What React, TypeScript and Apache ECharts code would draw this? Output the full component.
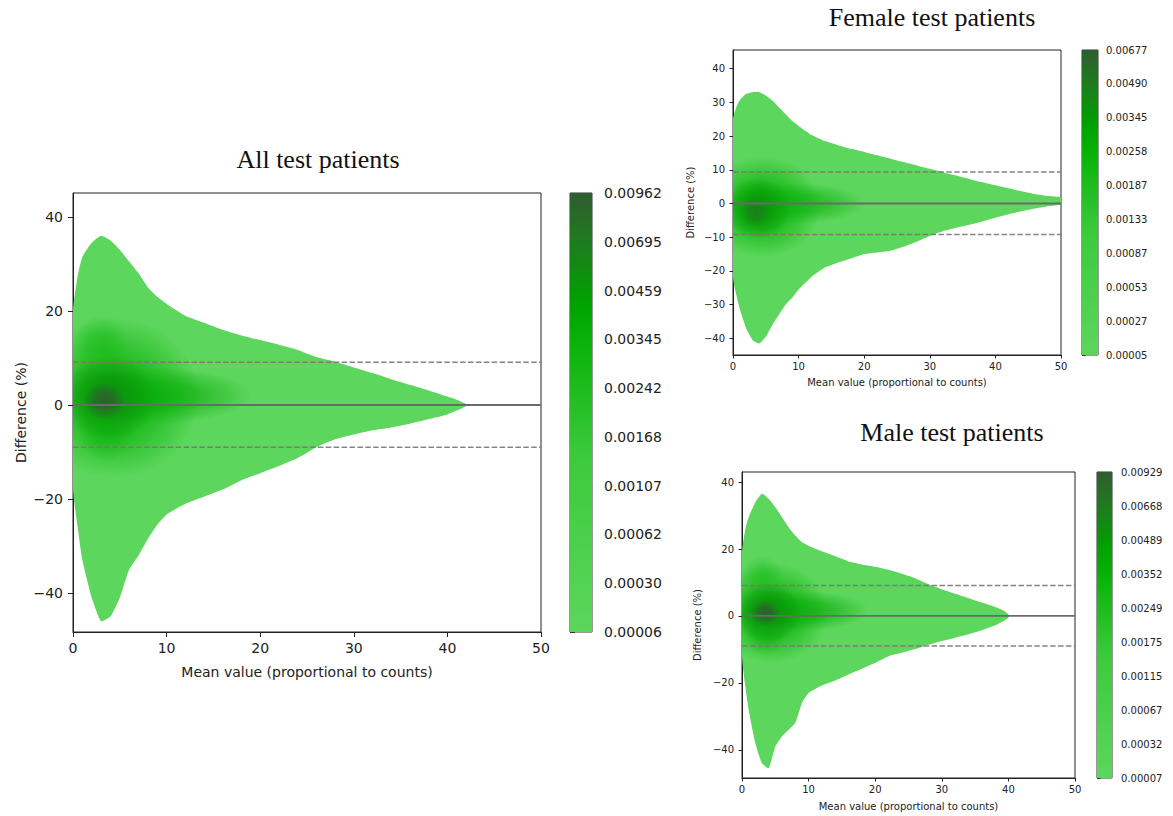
import React, { useEffect, useRef } from "react";
import * as echarts from "echarts";

// ---------------- data ----------------
const xTicks = [0, 10, 20, 30, 40, 50];
const allYTicks = [-40, -20, 0, 20, 40];
const femaleYTicks = [-40, -30, -20, -10, 0, 10, 20, 30, 40];
const maleYTicks = [-40, -20, 0, 20, 40];

// outer density envelope (lowest contour level)
const allX = [0, 0.5, 1, 2, 3, 4, 5, 6, 7, 8, 9, 10, 12, 14, 16, 18, 20, 22, 24, 26, 28, 30, 32, 34, 36, 38, 40, 41, 42];
const allUpper = [20, 27.5, 31.5, 34.5, 36, 35, 33, 30.5, 28, 25, 23, 21.5, 19, 17.5, 16, 14.8, 13.8, 12.8, 11.7, 10.2, 9.2, 8, 6.8, 5.5, 4.3, 3.1, 1.8, 1.1, 0.2];
const allLower = [-18, -26, -33, -41, -46, -45, -41, -35, -32, -28.5, -25.5, -23.3, -21, -19.5, -18, -16, -14.5, -13, -11.3, -9, -7.3, -6.3, -5.4, -4.8, -4, -3, -2, -1.2, -0.2];

const femaleX = [0, 0.5, 1, 2, 3, 4, 5, 6, 7, 8, 9, 10, 12, 14, 16, 18, 20, 22, 24, 26, 28, 30, 32, 34, 36, 38, 40, 42, 44, 46, 48, 50];
const femaleUpper = [25, 28.5, 30.5, 32.5, 33, 33, 32, 30.5, 28.5, 26.5, 24.5, 23, 20.3, 18.5, 17.3, 16.2, 15.3, 14.3, 13.3, 12.3, 11.3, 10.3, 9.3, 8.3, 7.3, 6.3, 5.4, 4.5, 3.6, 2.8, 2.2, 1.8];
const femaleLower = [-22, -27, -31, -37, -40.5, -41.5, -39.5, -36, -33, -30, -28, -25.5, -21.7, -19, -17.5, -16.3, -15, -14.5, -14, -12.8, -11.3, -9.6, -8.2, -7.2, -6.3, -5.3, -4.2, -3.2, -2.3, -1.5, -0.8, -0.3];

const maleX = [0, 0.5, 1, 2, 3, 4, 5, 6, 7, 8, 9, 10, 12, 14, 16, 18, 20, 22, 24, 26, 28, 30, 32, 34, 36, 38, 39, 40];
const maleUpper = [19, 26, 29.5, 34, 36.5, 35, 32.5, 29.5, 26.5, 24, 22, 21, 19.3, 17.8, 16.3, 15.4, 14.7, 13.8, 12.6, 11.3, 9.5, 8, 6.6, 5.3, 4, 2.7, 1.9, 0.5];
const maleLower = [-12, -21, -28, -38, -44, -45.5, -39, -36, -34, -32, -26, -23, -20.8, -19.3, -17.5, -15.8, -14, -12, -11, -9.9, -8.6, -7.5, -6.5, -5.5, -4.3, -2.8, -1.8, -0.5];

// density peaks (centre x, centre y, radius x, radius y, level 0..1, weight)
const allPeakX = [4.5, 9, 3.8, 3.4, 3, 3.5];
const allPeakY = [1.5, 2, 1.5, 0.8, 13, -6];
const allPeakSX = [9, 10, 5, 2.2, 3, 3];
const allPeakSY = [17, 6, 9, 4, 6, 6];
const allPeakLevel = [0.66, 0.7, 0.8, 1, 0.62, 0.68];
const allPeakWeight = [0.95, 0.75, 1, 0.9, 0.5, 0.45];

const femalePeakX = [4.5, 10, 3.8, 3.5];
const femalePeakY = [-1, 0, -1.5, -2.5];
const femalePeakSX = [9, 10, 5, 2.2];
const femalePeakSY = [15, 6, 9, 4.5];
const femalePeakLevel = [0.66, 0.68, 0.78, 0.9];
const femalePeakWeight = [0.95, 0.7, 1, 0.75];

const malePeakX = [4.5, 9, 3.8, 3.5, 3, 3.5];
const malePeakY = [1, 1.5, 1, 0.8, 12, -6];
const malePeakSX = [8.5, 10, 5, 2.2, 3, 3];
const malePeakSY = [15, 6, 9, 4, 6, 6];
const malePeakLevel = [0.66, 0.7, 0.8, 1, 0.62, 0.68];
const malePeakWeight = [0.95, 0.75, 1, 0.9, 0.45, 0.45];

const lineX = [0, 50];
const allLines = [0, 9.1, -9.0]; // mean, upper LoA, lower LoA
const femaleLines = [0, 9.35, -9.15];
const maleLines = [0, 9.1, -9.0];

const allCbLabels = ["0.00006", "0.00030", "0.00062", "0.00107", "0.00168", "0.00242", "0.00345", "0.00459", "0.00695", "0.00962"];
const femaleCbLabels = ["0.00005", "0.00027", "0.00053", "0.00087", "0.00133", "0.00187", "0.00258", "0.00345", "0.00490", "0.00677"];
const maleCbLabels = ["0.00007", "0.00032", "0.00067", "0.00115", "0.00175", "0.00249", "0.00352", "0.00489", "0.00668", "0.00929"];

// ---------------- styling helpers ----------------
const cmapStops: [number, number[]][] = [
  [0, [92, 214, 92]],
  [0.4, [60, 202, 60]],
  [0.65, [10, 180, 10]],
  [0.76, [0, 160, 0]],
  [0.88, [30, 125, 30]],
  [1, [48, 92, 48]],
];
function cmap(t: number, a = 1) {
  t = Math.max(0, Math.min(1, t));
  for (let i = 0; i < cmapStops.length - 1; i++) {
    const [t0, c0] = cmapStops[i];
    const [t1, c1] = cmapStops[i + 1];
    if (t <= t1) {
      const f = (t - t0) / (t1 - t0);
      const c = c0.map((v, k) => Math.round(v + (c1[k] - v) * f));
      return `rgba(${c[0]},${c[1]},${c[2]},${a})`;
    }
  }
  const c = cmapStops[cmapStops.length - 1][1];
  return `rgba(${c[0]},${c[1]},${c[2]},${a})`;
}
const BASE = cmap(0);
const FONT = "DejaVu Sans";
const TXT = "#222";
const minus = (v: number) => (v < 0 ? "\u2212" + Math.abs(v) : String(v));

type Box = { left: number; top: number; width: number; height: number };
type Panel = {
  grid: Box; cb: Box;
  yMin: number; yMax: number; yTicks: number[];
  xs: number[]; up: number[]; lo: number[];
  px: number[]; py: number[]; psx: number[]; psy: number[]; plv: number[]; pw: number[];
  lines: number[]; cbLabels: string[];
  fs: number; tick: number; xGap: number; yGap: number; xm: number; ym: number; cbm: number;
};

const panels: Panel[] = [
  {
    grid: { left: 73, top: 193, width: 468, height: 439 },
    cb: { left: 570, top: 193, width: 22, height: 439 },
    yMin: -48.3, yMax: 45.1, yTicks: allYTicks,
    xs: allX, up: allUpper, lo: allLower,
    px: allPeakX, py: allPeakY, psx: allPeakSX, psy: allPeakSY, plv: allPeakLevel, pw: allPeakWeight,
    lines: allLines, cbLabels: allCbLabels, fs: 14, tick: 5, xGap: 33, yGap: 45, xm: 9, ym: 10, cbm: 12,
  },
  {
    grid: { left: 733, top: 50, width: 328, height: 305 },
    cb: { left: 1082, top: 50, width: 16, height: 305 },
    yMin: -44.9, yMax: 45.5, yTicks: femaleYTicks,
    xs: femaleX, up: femaleUpper, lo: femaleLower,
    px: femalePeakX, py: femalePeakY, psx: femalePeakSX, psy: femalePeakSY, plv: femalePeakLevel, pw: femalePeakWeight,
    lines: femaleLines, cbLabels: femaleCbLabels, fs: 10, tick: 3.5, xGap: 22, yGap: 38, xm: 6, ym: 8, cbm: 8,
  },
  {
    grid: { left: 742, top: 472, width: 333, height: 306 },
    cb: { left: 1097, top: 472, width: 15, height: 306 },
    yMin: -48.4, yMax: 43, yTicks: maleYTicks,
    xs: maleX, up: maleUpper, lo: maleLower,
    px: malePeakX, py: malePeakY, psx: malePeakSX, psy: malePeakSY, plv: malePeakLevel, pw: malePeakWeight,
    lines: maleLines, cbLabels: maleCbLabels, fs: 10, tick: 3.5, xGap: 23, yGap: 40, xm: 6, ym: 8, cbm: 9,
  },
];

const titles = [
  { text: "All test patients", x: 318, y: 146 },
  { text: "Female test patients", x: 932, y: 4 },
  { text: "Male test patients", x: 952, y: 419 },
];

function buildOption() {
  const grids: any[] = [];
  const xAxes: any[] = [];
  const yAxes: any[] = [];
  const series: any[] = [];

  panels.forEach((p, k) => {
    const gi = k * 2;
    grids.push({ ...p.grid, show: true, borderColor: "#222", borderWidth: 1, backgroundColor: "transparent", containLabel: false });
    grids.push({ ...p.cb, show: true, borderColor: "#333", borderWidth: 1, backgroundColor: "transparent", containLabel: false });

    xAxes.push({
      type: "value", gridIndex: gi, min: xTicks[0], max: xTicks[xTicks.length - 1], interval: 10,
      name: "Mean value (proportional to counts)", nameLocation: "middle", nameGap: p.xGap,
      nameTextStyle: { fontFamily: FONT, fontSize: p.fs, color: TXT },
      axisLine: { show: true, onZero: false, lineStyle: { color: "#222", width: 1 } },
      axisTick: { show: true, length: p.tick, lineStyle: { color: "#222" } },
      axisLabel: { fontFamily: FONT, fontSize: p.fs, color: TXT, margin: p.xm, formatter: (v: number) => minus(v) },
      splitLine: { show: false },
    });
    yAxes.push({
      type: "value", gridIndex: gi, min: p.yMin, max: p.yMax,
      name: "Difference (%)", nameLocation: "middle", nameGap: p.yGap,
      nameTextStyle: { fontFamily: FONT, fontSize: p.fs, color: TXT },
      axisLine: { show: true, onZero: false, lineStyle: { color: "#222", width: 1 } },
      axisTick: { show: true, length: p.tick, customValues: p.yTicks, lineStyle: { color: "#222" } },
      axisLabel: { fontFamily: FONT, fontSize: p.fs, color: TXT, margin: p.ym, customValues: p.yTicks, formatter: (v: number) => minus(v) },
      splitLine: { show: false },
    });
    // colorbar axes
    xAxes.push({ type: "value", gridIndex: gi + 1, min: 0, max: 1, show: false });
    yAxes.push({
      type: "value", gridIndex: gi + 1, min: 0, max: p.cbLabels.length - 1, interval: 1, position: "right",
      axisLine: { show: false },
      axisTick: { show: true, length: p.tick, lineStyle: { color: "#333" } },
      axisLabel: { fontFamily: FONT, fontSize: p.fs, color: TXT, margin: p.cbm, formatter: (v: number) => p.cbLabels[Math.round(v)] ?? "" },
      splitLine: { show: false },
    });

    // outer envelope polygon
    series.push({
      type: "custom", xAxisIndex: gi, yAxisIndex: gi, clip: true, z: 2, silent: true,
      data: p.xs.map((x, i) => [x, p.up[i], p.lo[i]]),
      encode: { x: 0, y: [1, 2] },
      renderItem: (params: any, api: any) => {
        if (params.dataIndexInside !== 0) return null;
        const n = params.dataInsideLength;
        const pts: number[][] = [];
        for (let i = 0; i < n; i++) pts.push(api.coord([api.value(0, i), api.value(1, i)]));
        for (let i = n - 1; i >= 0; i--) pts.push(api.coord([api.value(0, i), api.value(2, i)]));
        return { type: "polygon", shape: { points: pts, smooth: 0.15 }, style: { fill: BASE } };
      },
    });
    // density peaks
    series.push({
      type: "custom", xAxisIndex: gi, yAxisIndex: gi, clip: true, z: 3, silent: true,
      data: p.px.map((x, i) => [x, p.py[i], p.psx[i], p.psy[i], p.plv[i], p.pw[i]]),
      encode: { x: 0, y: 1 },
      renderItem: (params: any, api: any) => {
        const c = api.coord([api.value(0), api.value(1)]);
        const s = api.size([api.value(2), api.value(3)]);
        const lv = api.value(4);
        const w = api.value(5);
        return {
          type: "circle",
          x: c[0], y: c[1],
          scaleX: Math.abs(s[0]) / 100, scaleY: Math.abs(s[1]) / 100,
          shape: { cx: 0, cy: 0, r: 100 },
          style: {
            fill: {
              type: "radial", x: 0.5, y: 0.5, r: 0.5,
              colorStops: [
                { offset: 0, color: cmap(lv, w) },
                { offset: 0.45, color: cmap(lv, w * 0.75) },
                { offset: 0.8, color: cmap(lv, w * 0.28) },
                { offset: 1, color: cmap(lv, 0) },
              ],
            },
          },
        };
      },
    });
    // mean & limits of agreement
    p.lines.forEach((v, j) => {
      series.push({
        type: "line", xAxisIndex: gi, yAxisIndex: gi, z: 5, silent: true, symbol: "none",
        data: lineX.map((x) => [x, v]),
        lineStyle: j === 0
          ? { color: "#6a6a6a", width: 1.8, type: "solid" }
          : { color: "rgba(125,115,115,0.9)", width: 1.5, type: [5.5, 2.4] },
      });
    });
    // colorbar
    series.push({
      type: "custom", xAxisIndex: gi + 1, yAxisIndex: gi + 1, clip: true, z: 2, silent: true,
      data: [[0, 0, 1, p.cbLabels.length - 1]],
      renderItem: (params: any, api: any) => {
        const a = api.coord([api.value(0), api.value(1)]);
        const b = api.coord([api.value(2), api.value(3)]);
        const stops = [];
        for (let i = 0; i <= 20; i++) stops.push({ offset: i / 20, color: cmap(i / 20) });
        return {
          type: "rect",
          shape: { x: a[0], y: b[1], width: b[0] - a[0], height: a[1] - b[1] },
          style: { fill: { type: "linear", x: 0, y: 1, x2: 0, y2: 0, colorStops: stops } },
        };
      },
    });
  });

  return {
    animation: false,
    backgroundColor: "#fff",
    title: titles.map((t) => ({
      text: t.text, left: t.x, top: t.y, textAlign: "center", padding: 0,
      textStyle: { fontFamily: "Liberation Serif", fontSize: 26, fontWeight: "normal", color: "#111" },
    })),
    grid: grids,
    xAxis: xAxes,
    yAxis: yAxes,
    series,
  };
}

export default function App() {
  const ref = useRef<HTMLDivElement>(null);
  useEffect(() => {
    document.body.style.margin = "0";
    const chart = echarts.init(ref.current!, null, { renderer: "svg" });
    chart.setOption(buildOption() as any);
    return () => chart.dispose();
  }, []);
  return <div ref={ref} style={{ width: 1173, height: 816 }} />;
}
